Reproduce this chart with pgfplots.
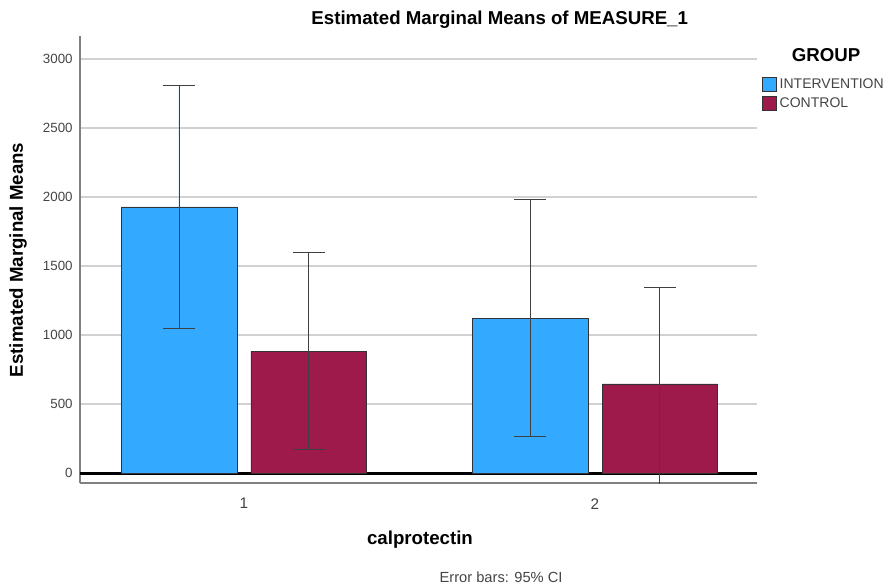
\documentclass[border=0pt]{standalone}
\usepackage{pgfplots}
\pgfplotsset{compat=1.18}
\usepackage{fontspec}
\setmainfont{Liberation Sans}
\definecolor{ibl}{HTML}{33AAFF}
\definecolor{ctl}{HTML}{9E1A4A}
\definecolor{ticktxt}{HTML}{444444}
\begin{document}
\begin{tikzpicture}
\path[use as bounding box] (-60pt,-77.25pt) rectangle (609.75pt,362.25pt);
\begin{axis}[
  scale only axis, width=507.75pt, height=335.25pt,
  anchor=south west, at={(0pt,0pt)},
  xmin=0.533, xmax=2.4615, ymin=-72.5, ymax=3167,
  axis x line=bottom, axis y line=left,
  axis line style={-, draw=gray, line width=0.8pt},
  ytick={0,500,1000,1500,2000,2500,3000},
  xtick={1,2},
  major tick length=0pt,
  ymajorgrids, grid style={draw=black!18, line width=0.9pt},
  /pgf/number format/1000 sep={},
  /pgf/number format/assume math mode=true,
  yticklabel style={font=\fontsize{10}{12}\selectfont, color=ticktxt, xshift=-2pt},
  xticklabel style={font=\fontsize{11.5}{13}\selectfont, color=ticktxt, yshift=-8pt},
  clip=true,
  legend style={at={(rel axis cs:1.0074,0.9105)}, anchor=north west, draw=none, fill=none,
    font=\fontsize{10.5}{12}\selectfont\color{ticktxt}, row sep=1pt, inner sep=0pt,
    legend cell align=left},
  legend image code/.code={\draw[#1, draw=black!80, line width=0.6pt] (0pt,-5pt) rectangle (10.5pt,5.5pt);},
]
\draw[line width=2.2pt, black] (rel axis cs:0,0.0216) -- (rel axis cs:1,0.0216);
\addplot[ybar, bar width=0.33, bar shift=0pt, fill=ibl, draw=black!80, line width=0.6pt,
  error bars/.cd, y dir=both, y explicit,
  error bar style={draw=black!75, line width=0.7pt},
  error mark options={draw=black!75, line width=0.7pt, mark size=12pt, rotate=90}]
  coordinates {(0.815,1928) +- (0,877) (1.815,1123) +- (0,860)};
\addlegendentry{INTERVENTION}
\addplot[ybar, bar width=0.33, bar shift=0pt, fill=ctl, draw=black!80, line width=0.6pt,
  error bars/.cd, y dir=both, y explicit,
  error bar style={draw=black!75, line width=0.7pt},
  error mark options={draw=black!75, line width=0.7pt, mark size=12pt, rotate=90}]
  coordinates {(1.185,884) +- (0,714) (2.185,645) += (0,696) -= (0,800)};
\addlegendentry{CONTROL}
\end{axis}
\node[font=\bfseries\fontsize{14}{16}\selectfont] at (314.8pt,347.3pt) {Estimated Marginal Means of MEASURE\_1};
\node[font=\bfseries\fontsize{14}{16}\selectfont, rotate=90] at (-46.5pt,167.3pt) {Estimated Marginal Means};
\node[font=\bfseries\fontsize{14}{16}\selectfont] at (255pt,-42.8pt) {calprotectin};
\node[font=\fontsize{11}{13}\selectfont, color=ticktxt] at (315.8pt,-70.5pt) {Error bars: 95\% CI};
\node[font=\bfseries\fontsize{14}{16}\selectfont] at (559.5pt,321pt) {GROUP};
\end{tikzpicture}
\end{document}
